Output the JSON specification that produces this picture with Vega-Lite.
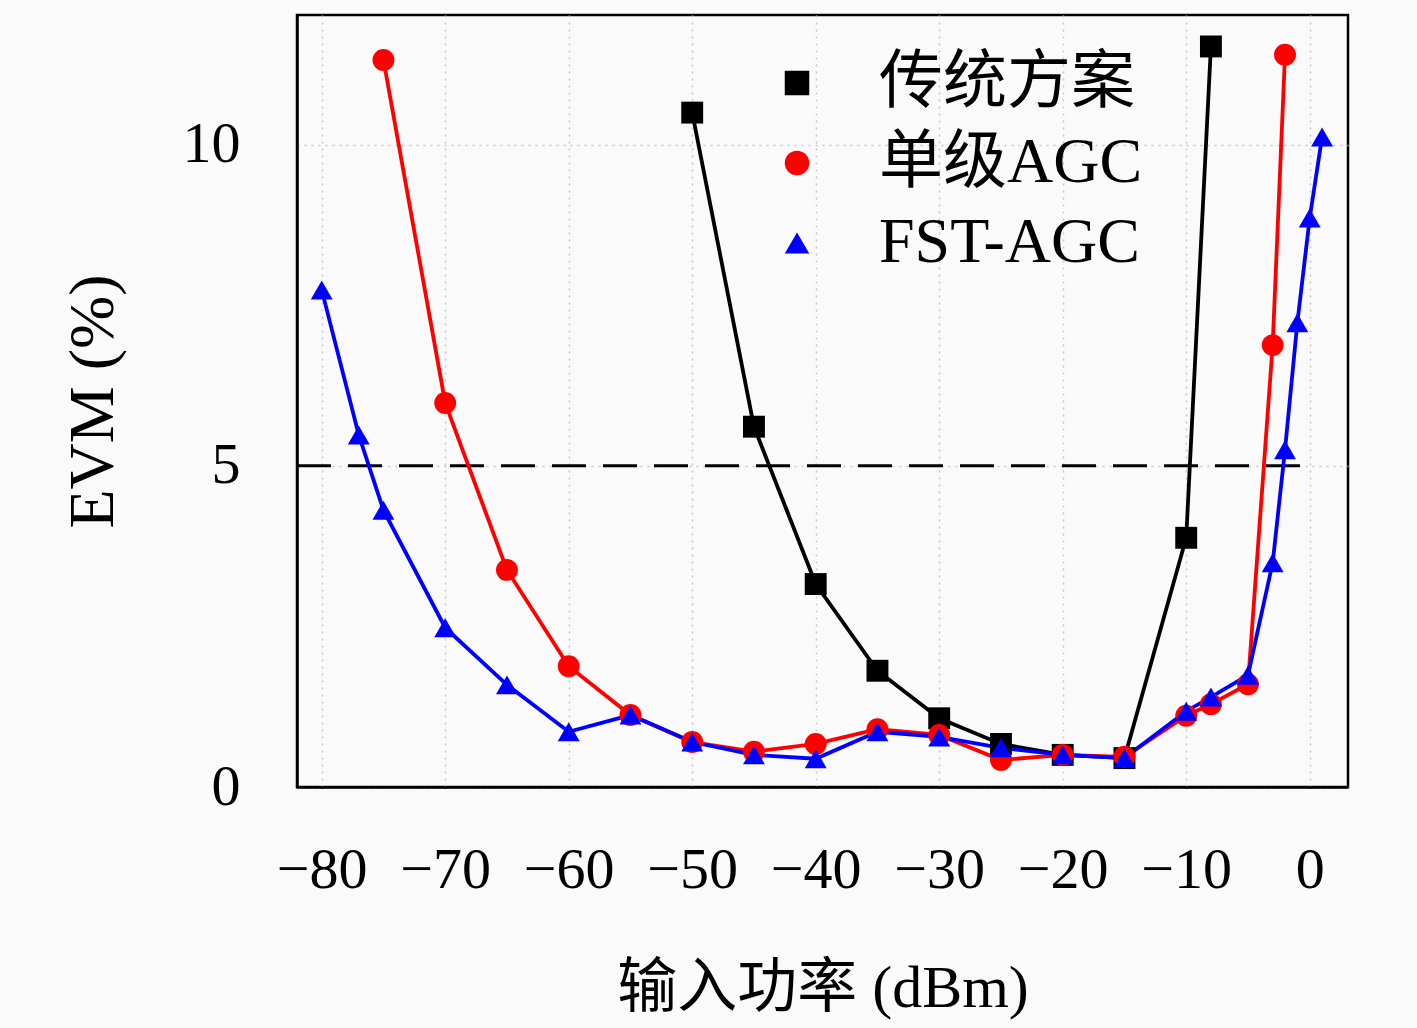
{
  "$schema": "https://vega.github.io/schema/vega-lite/v6.json",
  "width": 1051,
  "height": 772,
  "autosize": "none",
  "padding": {"left": 297, "top": 15, "right": 69, "bottom": 241},
  "background": "#fafafa",
  "config": {
    "view": {"stroke": "black", "strokeWidth": 2.5},
    "font": "Liberation Serif",
    "axis": {
      "domainColor": "black",
      "domainWidth": 2.5,
      "ticks": true,
      "tickColor": "black",
      "tickWidth": 2.5,
      "labelColor": "black",
      "titleColor": "black",
      "labelFont": "Liberation Serif",
      "titleFont": "Liberation Serif, Noto Sans CJK SC",
      "titleFontWeight": "normal",
      "grid": true,
      "gridColor": "#c8c8c8",
      "gridDash": [2, 5],
      "gridWidth": 1.5
    }
  },
  "datasets": {
    "curves": [
      {"scheme": "传统方案", "p": -50, "evm": 10.5},
      {"scheme": "传统方案", "p": -45, "evm": 5.61},
      {"scheme": "传统方案", "p": -40, "evm": 3.16},
      {"scheme": "传统方案", "p": -35, "evm": 1.81},
      {"scheme": "传统方案", "p": -30, "evm": 1.07},
      {"scheme": "传统方案", "p": -25, "evm": 0.67},
      {"scheme": "传统方案", "p": -20, "evm": 0.5},
      {"scheme": "传统方案", "p": -15, "evm": 0.45},
      {"scheme": "传统方案", "p": -10, "evm": 3.88},
      {"scheme": "传统方案", "p": -8, "evm": 11.53},
      {"scheme": "单级AGC", "p": -75, "evm": 11.32},
      {"scheme": "单级AGC", "p": -70, "evm": 5.98},
      {"scheme": "单级AGC", "p": -65, "evm": 3.38},
      {"scheme": "单级AGC", "p": -60, "evm": 1.88},
      {"scheme": "单级AGC", "p": -55, "evm": 1.12},
      {"scheme": "单级AGC", "p": -50, "evm": 0.7},
      {"scheme": "单级AGC", "p": -45, "evm": 0.55},
      {"scheme": "单级AGC", "p": -40, "evm": 0.67},
      {"scheme": "单级AGC", "p": -35, "evm": 0.9},
      {"scheme": "单级AGC", "p": -30, "evm": 0.81},
      {"scheme": "单级AGC", "p": -25, "evm": 0.42},
      {"scheme": "单级AGC", "p": -20, "evm": 0.5},
      {"scheme": "单级AGC", "p": -15, "evm": 0.47},
      {"scheme": "单级AGC", "p": -10, "evm": 1.11},
      {"scheme": "单级AGC", "p": -8, "evm": 1.29},
      {"scheme": "单级AGC", "p": -5, "evm": 1.6},
      {"scheme": "单级AGC", "p": -3, "evm": 6.88},
      {"scheme": "单级AGC", "p": -2, "evm": 11.4},
      {"scheme": "FST-AGC", "p": -80, "evm": 7.74},
      {"scheme": "FST-AGC", "p": -77, "evm": 5.48},
      {"scheme": "FST-AGC", "p": -75, "evm": 4.31},
      {"scheme": "FST-AGC", "p": -70, "evm": 2.48},
      {"scheme": "FST-AGC", "p": -65, "evm": 1.59},
      {"scheme": "FST-AGC", "p": -60, "evm": 0.86},
      {"scheme": "FST-AGC", "p": -55, "evm": 1.12},
      {"scheme": "FST-AGC", "p": -50, "evm": 0.7},
      {"scheme": "FST-AGC", "p": -45, "evm": 0.5},
      {"scheme": "FST-AGC", "p": -40, "evm": 0.44},
      {"scheme": "FST-AGC", "p": -35, "evm": 0.86},
      {"scheme": "FST-AGC", "p": -30, "evm": 0.78},
      {"scheme": "FST-AGC", "p": -25, "evm": 0.61},
      {"scheme": "FST-AGC", "p": -20, "evm": 0.5},
      {"scheme": "FST-AGC", "p": -15, "evm": 0.45},
      {"scheme": "FST-AGC", "p": -10, "evm": 1.18},
      {"scheme": "FST-AGC", "p": -8, "evm": 1.4},
      {"scheme": "FST-AGC", "p": -5, "evm": 1.74},
      {"scheme": "FST-AGC", "p": -3, "evm": 3.49},
      {"scheme": "FST-AGC", "p": -2, "evm": 5.25},
      {"scheme": "FST-AGC", "p": -1, "evm": 7.23},
      {"scheme": "FST-AGC", "p": 0, "evm": 8.86},
      {"scheme": "FST-AGC", "p": 1, "evm": 10.12}
    ],
    "threshold": [{"from": -82, "to": 0, "evm": 5}]
  },
  "layer": [
    {
      "data": {"name": "threshold"},
      "mark": {"type": "rule", "color": "black", "strokeWidth": 3, "strokeDash": [34, 17]},
      "encoding": {
        "x": {
          "field": "from",
          "type": "quantitative",
          "scale": {"domain": [-82, 3.1], "nice": false, "zero": false},
          "axis": {
            "values": [-80, -70, -60, -50, -40, -30, -20, -10, 0],
            "format": "d",
            "labelFontSize": 58,
            "tickSize": 1,
            "labelPadding": 53,
            "title": "输入功率 (dBm)",
            "titleFontSize": 60,
            "titlePadding": 60
          }
        },
        "x2": {"field": "to"},
        "y": {
          "field": "evm",
          "type": "quantitative",
          "scale": {"domain": [0, 12.02], "nice": false},
          "axis": {
            "values": [0, 5, 10],
            "format": "d",
            "labelFontSize": 58,
            "tickSize": 1,
            "labelPadding": 56,
            "title": "EVM (%)",
            "titleFontSize": 64,
            "titlePadding": 57
          }
        }
      }
    },
    {
      "data": {"name": "curves"},
      "transform": [{"filter": "datum.scheme === '传统方案'"}],
      "mark": {"type": "line", "strokeWidth": 3.8, "color": "#000000"},
      "encoding": {
        "x": {"field": "p", "type": "quantitative"},
        "y": {"field": "evm", "type": "quantitative"},
        "order": {"field": "p", "type": "quantitative"}
      }
    },
    {
      "data": {"name": "curves"},
      "transform": [{"filter": "datum.scheme === '单级AGC'"}],
      "mark": {"type": "line", "strokeWidth": 3.8, "color": "#ff0000"},
      "encoding": {
        "x": {"field": "p", "type": "quantitative"},
        "y": {"field": "evm", "type": "quantitative"},
        "order": {"field": "p", "type": "quantitative"}
      }
    },
    {
      "data": {"name": "curves"},
      "transform": [{"filter": "datum.scheme === 'FST-AGC'"}],
      "mark": {"type": "line", "strokeWidth": 3.8, "color": "#0000ff"},
      "encoding": {
        "x": {"field": "p", "type": "quantitative"},
        "y": {"field": "evm", "type": "quantitative"},
        "order": {"field": "p", "type": "quantitative"}
      }
    },
    {
      "data": {"name": "curves"},
      "mark": {"type": "point", "filled": true, "opacity": 1, "size": 480},
      "encoding": {
        "x": {"field": "p", "type": "quantitative"},
        "y": {"field": "evm", "type": "quantitative"},
        "color": {
          "field": "scheme",
          "type": "nominal",
          "scale": {"domain": ["传统方案", "单级AGC", "FST-AGC"], "range": ["#000000", "#ff0000", "#0000ff"]},
          "legend": {
            "orient": "none",
            "legendX": 468,
            "legendY": 36,
            "title": null,
            "labelFontSize": 64,
            "labelFont": "Liberation Serif, Noto Sans CJK SC",
            "labelColor": "black",
            "labelLimit": 0,
            "labelOffset": 50,
            "rowPadding": 16,
            "symbolSize": 600,
            "symbolOpacity": 1
          }
        },
        "shape": {
          "field": "scheme",
          "type": "nominal",
          "scale": {"domain": ["传统方案", "单级AGC", "FST-AGC"], "range": ["square", "circle", "triangle-up"]},
          "legend": {
            "orient": "none",
            "legendX": 468,
            "legendY": 36,
            "title": null,
            "labelFontSize": 64,
            "labelFont": "Liberation Serif, Noto Sans CJK SC",
            "labelColor": "black",
            "labelLimit": 0,
            "labelOffset": 50,
            "rowPadding": 16,
            "symbolSize": 600,
            "symbolOpacity": 1
          }
        }
      }
    }
  ]
}
